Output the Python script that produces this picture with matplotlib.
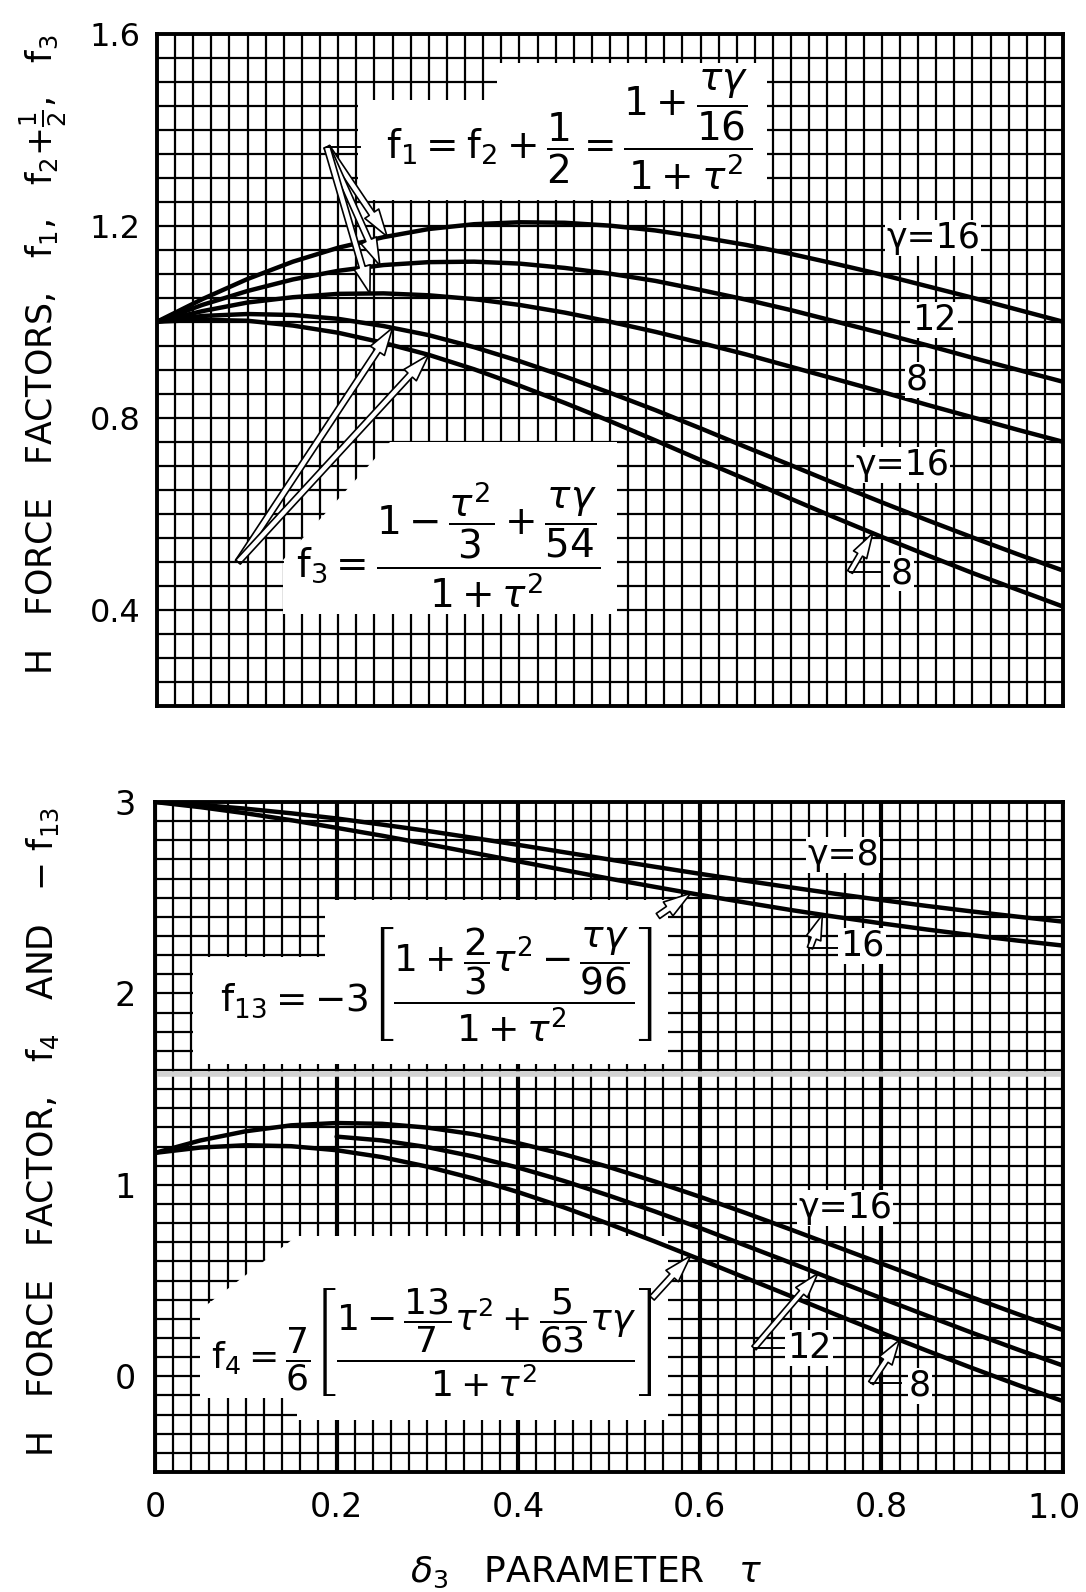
import numpy as np
import matplotlib
matplotlib.use("Agg")
import matplotlib.pyplot as plt
from matplotlib.patches import Polygon
from matplotlib.lines import Line2D

plt.rcParams['font.family'] = ['DejaVu Sans']
plt.rcParams['mathtext.fontset'] = 'dejavusans'

# ---------------- data ----------------
tau = [0.00, 0.05, 0.10, 0.15, 0.20, 0.25, 0.30, 0.35, 0.40, 0.45, 0.50,
       0.55, 0.60, 0.65, 0.70, 0.75, 0.80, 0.85, 0.90, 0.95, 1.00]

# top panel: f1 = f2 + 1/2
f1_g16 = [1.000, 1.047, 1.089, 1.125, 1.154, 1.176, 1.193, 1.203, 1.207, 1.206, 1.200,
          1.190, 1.176, 1.160, 1.141, 1.120, 1.098, 1.074, 1.050, 1.025, 1.000]
f1_g12 = [1.000, 1.035, 1.064, 1.088, 1.106, 1.118, 1.124, 1.125, 1.121, 1.112, 1.100,
          1.085, 1.066, 1.046, 1.024, 1.000, 0.976, 0.951, 0.925, 0.900, 0.875]
f1_g8 = [1.000, 1.022, 1.040, 1.051, 1.058, 1.059, 1.055, 1.047, 1.035, 1.019, 1.000,
         0.979, 0.956, 0.932, 0.906, 0.880, 0.854, 0.827, 0.801, 0.775, 0.750]
# top panel: f3
f3_g16 = [1.000, 1.012, 1.016, 1.014, 1.006, 0.991, 0.972, 0.947, 0.918, 0.886, 0.852,
          0.816, 0.778, 0.739, 0.701, 0.662, 0.624, 0.587, 0.551, 0.516, 0.482]
f3_g8 = [1.000, 1.004, 1.002, 0.992, 0.977, 0.956, 0.931, 0.901, 0.867, 0.831, 0.793,
         0.753, 0.712, 0.672, 0.631, 0.591, 0.552, 0.514, 0.477, 0.442, 0.407]

# bottom panel: -f13
mf13_g8 = [3.000, 2.985, 2.965, 2.941, 2.914, 2.882, 2.849, 2.813, 2.776, 2.738, 2.700,
           2.662, 2.625, 2.589, 2.554, 2.520, 2.488, 2.457, 2.428, 2.401, 2.375]
mf13_g16 = [3.000, 2.973, 2.941, 2.905, 2.865, 2.824, 2.780, 2.735, 2.690, 2.645, 2.600,
            2.557, 2.515, 2.475, 2.436, 2.400, 2.366, 2.334, 2.304, 2.276, 2.250]
# bottom panel: f4
f4_g16 = [1.167, 1.232, 1.280, 1.311, 1.323, 1.319, 1.299, 1.265, 1.218, 1.160, 1.093,
          1.018, 0.938, 0.854, 0.767, 0.678, 0.589, 0.500, 0.412, 0.325, 0.241]
tau_g12 = [0.20, 0.25, 0.30, 0.35, 0.40, 0.45, 0.50, 0.55, 0.60, 0.65, 0.70,
           0.75, 0.80, 0.85, 0.90, 0.95, 1.00]
f4_g12 = [1.252, 1.232, 1.197, 1.149, 1.090, 1.021, 0.944, 0.862, 0.775, 0.684, 0.593,
          0.500, 0.408, 0.317, 0.227, 0.140, 0.056]
f4_g8 = [1.167, 1.195, 1.207, 1.202, 1.181, 1.145, 1.095, 1.034, 0.962, 0.883, 0.796,
         0.705, 0.611, 0.515, 0.419, 0.322, 0.227, 0.134, 0.043, -0.045, -0.130]

top_yticks = [0.4, 0.8, 1.2, 1.6]
top_yticklabels = ['0.4', '0.8', '1.2', '1.6']
bot_yticks = [0, 1, 2, 3]
bot_yticklabels = ['0', '1', '2', '3']
xticks = [0, 0.2, 0.4, 0.6, 0.8, 1.0]
xticklabels = ['0', '0.2', '0.4', '0.6', '0.8', '1.0']

# ---------------- figure ----------------
W, H = 1086, 1592
fig = plt.figure(figsize=(W / 100, H / 100), dpi=100)
fig.patch.set_facecolor('white')


def fx(x):
    return x / W


def fy(y):
    return 1 - y / H


def P(pts):
    return [(fx(a), fy(b)) for a, b in pts]


ax1 = fig.add_axes([fx(157), fy(706), (1063 - 157) / W, (706 - 33.5) / H])
ax2 = fig.add_axes([fx(155), fy(1472), (1063 - 155) / W, (1472 - 802) / H])


def setup(ax, ylim, ymaj, ymin, xmaj_lw):
    ax.set_xlim(0, 1)
    ax.set_ylim(*ylim)
    ax.set_xticks(xticks)
    ax.set_xticks(np.arange(0, 1.0001, 0.02), minor=True)
    ax.set_yticks(ymaj)
    ax.set_yticks(ymin, minor=True)
    ax.set_axisbelow(True)
    ax.grid(which='minor', color='black', lw=1.6)
    ax.grid(which='major', axis='y', color='black', lw=1.6)
    ax.grid(which='major', axis='x', color='black', lw=xmaj_lw)
    ax.tick_params(which='both', length=0)
    for s in ax.spines.values():
        s.set_linewidth(2.8)
        s.set_color('black')


setup(ax1, (0.2, 1.6), top_yticks, np.arange(0.2, 1.6001, 0.05), 1.6)
setup(ax2, (-0.5, 3.0), bot_yticks, np.arange(-0.5, 3.0001, 0.1), 3.0)

ax1.set_yticklabels(top_yticklabels, fontsize=23)
ax1.set_xticklabels([])
ax1.tick_params(axis='y', pad=12)
ax2.set_yticklabels(bot_yticklabels, fontsize=24)
ax2.set_xticklabels(xticklabels[:-1] + [''], fontsize=24)
ax2.tick_params(axis='y', pad=14)
ax2.tick_params(axis='x', pad=14)
# last x tick label kept just inside the right edge
fig.text(fx(1054), fy(1508), xticklabels[-1], fontsize=24, ha='center', va='center')

# white cut-outs behind the formulas
white_regions_top = [
    [(358, 200), (358, 100), (497, 100), (497, 63), (767, 63), (767, 200)],
    [(283, 614), (283, 560), (390, 442), (617, 442), (617, 614)],
]
white_regions_bot = [
    [(193, 1064), (193, 957), (325, 957), (325, 900), (668, 900), (668, 1064)],
    [(200, 1398), (200, 1310), (297, 1236), (668, 1236), (668, 1420),
     (297, 1420), (297, 1398)],
]
for ax, regs in ((ax1, white_regions_top), (ax2, white_regions_bot)):
    for r in regs:
        ax.add_patch(Polygon(P(r), closed=True, transform=fig.transFigure,
                             fc='white', ec='none', zorder=1.5))

# scan artefact band
ax2.axhline(1.58, color='#d2d2d2', lw=4, zorder=1.6)

# ---------------- curves ----------------
clw = 3.2
for ys in (f1_g16, f1_g12, f1_g8, f3_g16, f3_g8):
    ax1.plot(tau, ys, color='black', lw=clw, solid_capstyle='round', zorder=3)
for ys in (mf13_g8, mf13_g16, f4_g16, f4_g8):
    ax2.plot(tau, ys, color='black', lw=clw, solid_capstyle='round', zorder=3)
ax2.plot(tau_g12, f4_g12, color='black', lw=clw, solid_capstyle='round', zorder=3)


# ---------------- arrows / annotations ----------------
def arrow(ax, tail, t, xs, ys, ms=22):
    tip = (t, float(np.interp(t, xs, ys)))
    ax.annotate('', xy=tip, xycoords='data',
                xytext=(fx(tail[0]), fy(tail[1])), textcoords='figure fraction',
                arrowprops=dict(arrowstyle='simple,head_length=0.9,head_width=0.55,tail_width=0.2',
                                fc='white', ec='black', lw=1.2, shrinkA=0, shrinkB=0,
                                mutation_scale=ms),
                zorder=4)


def hline(ax, x0, x1, y):
    ax.add_line(Line2D([fx(x0), fx(x1)], [fy(y), fy(y)], transform=fig.transFigure,
                       color='black', lw=1.4, zorder=4))


# f1 arrows
arrow(ax1, (327, 147), 0.254, tau, f1_g16)
arrow(ax1, (327, 147), 0.246, tau, f1_g12)
arrow(ax1, (327, 147), 0.235, tau, f1_g8)
hline(ax1, 327, 360, 147)
# f3 arrows
arrow(ax1, (238, 562), 0.26, tau, f3_g16)
arrow(ax1, (238, 562), 0.30, tau, f3_g8)
hline(ax1, 238, 283, 562)
# small label arrow top "8"
arrow(ax1, (850, 572), 0.79, tau, f3_g8, ms=20)
hline(ax1, 850, 882, 572)

# bottom
arrow(ax2, (658, 916), 0.59, tau, mf13_g16)
arrow(ax2, (652, 1298), 0.59, tau, f4_g8)
arrow(ax2, (810, 948), 0.735, tau, mf13_g16, ms=20)
hline(ax2, 810, 840, 948)
arrow(ax2, (754, 1348), 0.73, tau_g12, f4_g12, ms=20)
hline(ax2, 754, 784, 1348)
arrow(ax2, (871, 1383), 0.82, tau, f4_g8, ms=20)
hline(ax2, 871, 901, 1383)


# ---------------- labels ----------------
def label(ax, x, y, s, fs=25):
    ax.text(fx(x), fy(y), s, transform=fig.transFigure, ha='center', va='center',
            fontsize=fs, zorder=5,
            bbox=dict(fc='white', ec='none', pad=1.0))


label(ax1, 933, 238, 'γ=16')
label(ax1, 934, 320, '12')
label(ax1, 917, 380, '8')
label(ax1, 902, 465, 'γ=16')
label(ax1, 902, 573, '8')

label(ax2, 843, 855, 'γ=8')
label(ax2, 862, 946, '16')
label(ax2, 845, 1208, 'γ=16')
label(ax2, 809, 1348, '12')
label(ax2, 920, 1386, '8')

# formulas
fig.text(fx(569), fy(130),
         r'$\mathrm{f}_1 = \mathrm{f}_2 + \dfrac{1}{2} = \dfrac{1 + \dfrac{\tau\gamma}{16}}{1+\tau^2}$',
         fontsize=28, ha='center', va='center', zorder=6)
fig.text(fx(448), fy(545),
         r'$\mathrm{f}_3 = \dfrac{1 - \dfrac{\tau^2}{3} + \dfrac{\tau\gamma}{54}}{1+\tau^2}$',
         fontsize=28, ha='center', va='center', zorder=6)
fig.text(fx(436), fy(985),
         r'$\mathrm{f}_{13} = -3\left[\dfrac{1 + \dfrac{2}{3}\tau^2 - \dfrac{\tau\gamma}{96}}{1+\tau^2}\right]$',
         fontsize=27, ha='center', va='center', zorder=6)
fig.text(fx(432), fy(1343),
         r'$\mathrm{f}_4 = \dfrac{7}{6}\left[\dfrac{1 - \dfrac{13}{7}\tau^2 + \dfrac{5}{63}\tau\gamma}{1+\tau^2}\right]$',
         fontsize=26, ha='center', va='center', zorder=6)

# axis titles
fig.text(fx(53), fy(355), r'H   FORCE   FACTORS,   f$_1$,   f$_2$+$\frac{1}{2}$,   f$_3$',
         rotation=90, rotation_mode='anchor', ha='center', va='baseline', fontsize=25)
fig.text(fx(53), fy(1132), r'H   FORCE   FACTOR,   f$_4$   AND   $-$ f$_{13}$',
         rotation=90, rotation_mode='anchor', ha='center', va='baseline', fontsize=25)
fig.text(fx(586), fy(1572), r'$\delta_3$   PARAMETER   $\tau$', fontsize=26,
         ha='center', va='center')

fig.savefig('out.png', dpi=100, facecolor='white')
